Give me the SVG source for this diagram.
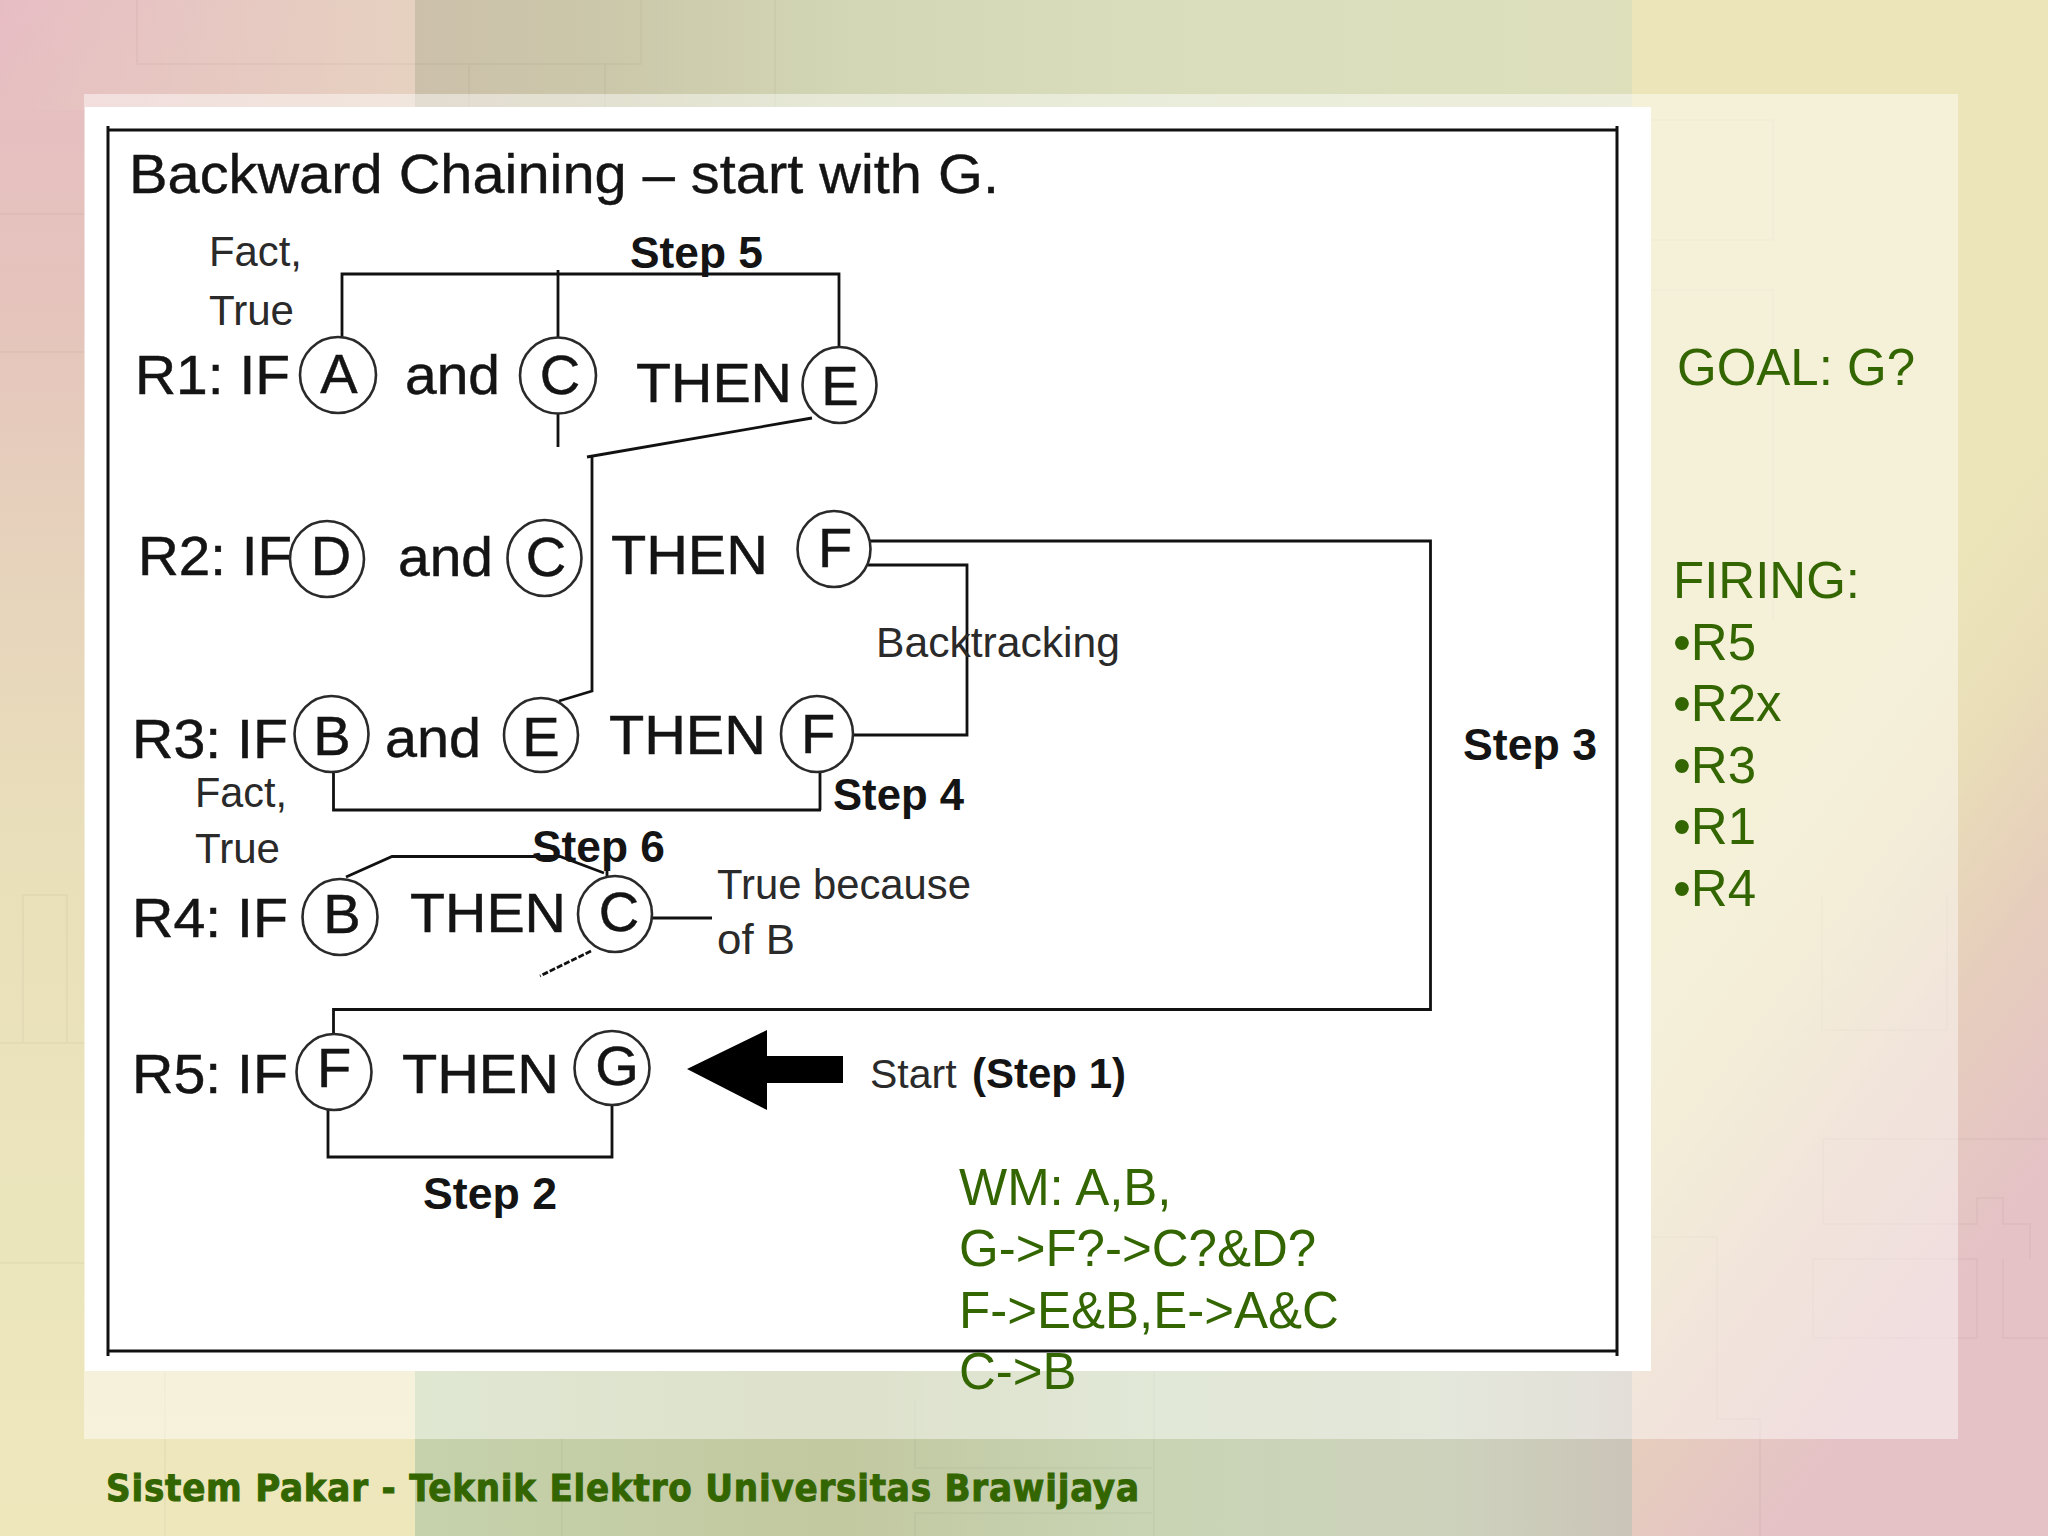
<svg xmlns="http://www.w3.org/2000/svg" width="2048" height="1536" viewBox="0 0 2048 1536">
<style>
text{font-family:"Liberation Sans",Arial,sans-serif;fill:#141414}
.b{font-size:56px;stroke:#141414;stroke-width:.5}
.s{font-size:43px;fill:#2a2a2a}
.st{font-size:44px;font-weight:bold}
.l{font-size:56px;text-anchor:middle;stroke:#141414;stroke-width:.5}
.g{font-size:51px;fill:#336600}
.n{fill:none;stroke:#2a2a2a;stroke-width:2.600}
.c{fill:none;stroke:#111;stroke-width:2.800}
.t{fill:none;stroke:#000;stroke-opacity:.028;stroke-width:2}
</style>
<defs>
<linearGradient id="lft" x1="0" y1="0" x2="0" y2="1"><stop offset="0" stop-color="#e7bdc4"/><stop offset=".2" stop-color="#e5c4bc"/><stop offset=".33" stop-color="#e6d0bc"/><stop offset=".55" stop-color="#e9dfba"/><stop offset=".8" stop-color="#ebe5bc"/><stop offset="1" stop-color="#efe7bc"/></linearGradient>
<linearGradient id="lt" x1="0" y1="0" x2="1" y2="0"><stop offset="0" stop-color="#e6d2c0" stop-opacity="0"/><stop offset="1" stop-color="#e6d2c0" stop-opacity=".95"/></linearGradient>
<linearGradient id="top" x1="0" y1="0" x2="1" y2="0"><stop offset="0" stop-color="#ccc0aa"/><stop offset=".15" stop-color="#cbc7aa"/><stop offset=".35" stop-color="#d2d6b4"/><stop offset=".6" stop-color="#d9ddbc"/><stop offset="1" stop-color="#dee0bc"/></linearGradient>
<linearGradient id="bot" x1="0" y1="0" x2="1" y2="0"><stop offset="0" stop-color="#c5d2ab"/><stop offset=".35" stop-color="#c2c8a0"/><stop offset=".6" stop-color="#c8d4b4"/><stop offset=".85" stop-color="#cdd2bc"/><stop offset="1" stop-color="#cbc4b8"/></linearGradient>
<linearGradient id="rgt" gradientUnits="userSpaceOnUse" x1="1700" y1="900" x2="2050" y2="1160"><stop offset="0" stop-color="#ece5b9"/><stop offset=".3" stop-color="#e9ddb8"/><stop offset=".6" stop-color="#e6cebc"/><stop offset="1" stop-color="#e5c2c6"/></linearGradient>
</defs>
<g id="background">
<rect x="0" y="0" width="2048" height="1536" fill="url(#rgt)"/>
<rect x="415" y="0" width="1217" height="700" fill="url(#top)"/>
<rect x="415" y="700" width="1217" height="836" fill="url(#bot)"/>
<rect x="0" y="0" width="415" height="1536" fill="url(#lft)"/>
<rect x="0" y="0" width="415" height="110" fill="url(#lt)"/>
<path class="t" d="M137 -5V64H641V-5M469 64V140M605 64V140M775 0V107M-5 214H84M-5 352H84M23 1043V895H67V1043M0 1043H84M0 1263H84"/>
<path class="t" d="M1650 120H1773V240H1650M1650 290H1773V620M1822 895V1030H1947V895M1823 1224V1139H2047M1823 1224H1977V1198H2003V1224H2030V1259M1813 1259H1977V1338H1813ZM2003 1259V1338H2048M1651 1237H1717V1419H1760V1536M165 1371V1536M562 1439V1536M915 1400V1468H1152M915 1536V1513H1152M1154 1371V1536"/>
</g>
<rect id="panel" x="84" y="94" width="1874" height="1345" fill="#fff" fill-opacity=".46"/>
<rect id="sheet" x="85" y="107" width="1566" height="1264" fill="#fff"/>
<path id="frame" d="M108 130H1617M108 126V1356M1617 126V1356M108 1351H1617" fill="none" stroke="#111" stroke-width="3"/>
<g id="connectors">
<path class="c" d="M342 337V274H839V347M558 270V337M558 414V447"/>
<path class="c" stroke-width="2.400" d="M812 418L587 457M592 457V691L559 701"/>
<path class="c" d="M870 541H1430.500V1009.500H333.500V1034"/>
<path class="c" d="M868 565H967V735H853"/>
<path class="c" d="M333.500 772V810H821M820 772V810"/>
<path class="c" d="M346 877L392 856.500H560L604 873M607 861V877"/>
<path class="c" d="M651 918H712"/>
<path class="c" stroke-dasharray="6 2" d="M591 951L540 976"/>
<path class="c" d="M328 1110V1157H612V1104"/>
<polygon id="start-arrow" points="687,1069 767,1030 767,1056 843,1056 843,1083 767,1083 767,1110" fill="#000"/>
</g>
<text id="title" x="129" y="193" font-size="55" stroke="#141414" stroke-width=".4" textLength="870" lengthAdjust="spacingAndGlyphs">Backward Chaining – start with G.</text>
<g id="rule-labels">
<text class="b" x="135" y="394" textLength="155" lengthAdjust="spacingAndGlyphs">R1: IF</text>
<text class="b" x="405" y="394" textLength="95" lengthAdjust="spacingAndGlyphs">and</text>
<text class="b" x="636" y="402" textLength="156" lengthAdjust="spacingAndGlyphs">THEN</text>
<text class="b" x="138" y="575" textLength="154" lengthAdjust="spacingAndGlyphs">R2: IF</text>
<text class="b" x="398" y="576" textLength="95" lengthAdjust="spacingAndGlyphs">and</text>
<text class="b" x="611" y="574" textLength="157" lengthAdjust="spacingAndGlyphs">THEN</text>
<text class="b" x="132" y="758" textLength="156" lengthAdjust="spacingAndGlyphs">R3: IF</text>
<text class="b" x="385" y="757" textLength="96" lengthAdjust="spacingAndGlyphs">and</text>
<text class="b" x="609" y="754" textLength="157" lengthAdjust="spacingAndGlyphs">THEN</text>
<text class="b" x="132" y="937" textLength="156" lengthAdjust="spacingAndGlyphs">R4: IF</text>
<text class="b" x="410" y="932" textLength="156" lengthAdjust="spacingAndGlyphs">THEN</text>
<text class="b" x="132" y="1093" textLength="156" lengthAdjust="spacingAndGlyphs">R5: IF</text>
<text class="b" x="402" y="1093" textLength="157" lengthAdjust="spacingAndGlyphs">THEN</text>
</g>
<g id="node-r1-a"><ellipse class="n" cx="338" cy="375" rx="38" ry="38"/><text class="l" x="339" y="393">A</text></g>
<g id="node-r1-c"><ellipse class="n" cx="558" cy="375.500" rx="38" ry="38"/><text class="l" x="560" y="394">C</text></g>
<g id="node-r1-e"><ellipse class="n" cx="839.500" cy="385" rx="37" ry="38"/><text class="l" x="840" y="405">E</text></g>
<g id="node-r2-d"><ellipse class="n" cx="327" cy="559" rx="37" ry="38"/><text class="l" x="331" y="575">D</text></g>
<g id="node-r2-c"><ellipse class="n" cx="544.500" cy="558" rx="37" ry="38"/><text class="l" x="546" y="576">C</text></g>
<g id="node-r2-f"><ellipse class="n" cx="834" cy="549" rx="36.500" ry="38"/><text class="l" x="835" y="567">F</text></g>
<g id="node-r3-b"><ellipse class="n" cx="331.500" cy="734" rx="37" ry="38"/><text class="l" x="332" y="755">B</text></g>
<g id="node-r3-e"><ellipse class="n" cx="541" cy="735" rx="37" ry="37"/><text class="l" x="541" y="756">E</text></g>
<g id="node-r3-f"><ellipse class="n" cx="817" cy="734" rx="36" ry="38"/><text class="l" x="818" y="753">F</text></g>
<g id="node-r4-b"><ellipse class="n" cx="340" cy="917" rx="37.500" ry="38"/><text class="l" x="342" y="933">B</text></g>
<g id="node-r4-c"><ellipse class="n" cx="615" cy="914" rx="37" ry="38"/><text class="l" x="619" y="931">C</text></g>
<g id="node-r5-f"><ellipse class="n" cx="334" cy="1072" rx="37.500" ry="38"/><text class="l" x="334" y="1087">F</text></g>
<g id="node-r5-g"><ellipse class="n" cx="612" cy="1068" rx="37.500" ry="37"/><text class="l" x="617" y="1085">G</text></g>
<g id="annotations">
<text class="s" x="209" y="266" textLength="93" lengthAdjust="spacingAndGlyphs">Fact,</text>
<text class="s" x="209" y="325" textLength="85" lengthAdjust="spacingAndGlyphs">True</text>
<text class="s" x="195" y="807" textLength="92" lengthAdjust="spacingAndGlyphs">Fact,</text>
<text class="s" x="195" y="863" textLength="85" lengthAdjust="spacingAndGlyphs">True</text>
<text class="s" x="876" y="657" textLength="244" lengthAdjust="spacingAndGlyphs">Backtracking</text>
<text class="s" x="717" y="899" textLength="254" lengthAdjust="spacingAndGlyphs">True because</text>
<text class="s" x="717" y="954" textLength="78" lengthAdjust="spacingAndGlyphs">of B</text>
<text class="st" x="630" y="268" textLength="133" lengthAdjust="spacingAndGlyphs">Step 5</text>
<text class="st" x="1463" y="760" textLength="134" lengthAdjust="spacingAndGlyphs">Step 3</text>
<text class="st" x="833" y="810" textLength="131" lengthAdjust="spacingAndGlyphs">Step 4</text>
<text class="st" x="532" y="862" textLength="133" lengthAdjust="spacingAndGlyphs">Step 6</text>
<text class="st" x="423" y="1209" textLength="134" lengthAdjust="spacingAndGlyphs">Step 2</text>
<text class="s" x="870" y="1088" style="font-size:41px">Start <tspan x="972" font-weight="bold" fill="#141414" style="font-size:42px">(Step 1)</tspan></text>
</g>
<g id="notes">
<text class="g" x="1677" y="385">GOAL: G?</text>
<text class="g" x="1673" y="598">FIRING:</text>
<text class="g" x="1673" y="660">•R5</text>
<text class="g" x="1673" y="721">•R2x</text>
<text class="g" x="1673" y="783">•R3</text>
<text class="g" x="1673" y="844">•R1</text>
<text class="g" x="1673" y="906">•R4</text>
<text class="g" x="959" y="1205">WM: A,B,</text>
<text class="g" x="959" y="1266">G-&gt;F?-&gt;C?&amp;D?</text>
<text class="g" x="959" y="1328">F-&gt;E&amp;B,E-&gt;A&amp;C</text>
<text class="g" x="959" y="1389">C-&gt;B</text>
</g>
<text id="footer" x="106" y="1501" font-size="38" font-weight="bold" stroke="#336600" stroke-width=".9" textLength="1033" lengthAdjust="spacing" style="font-family:'DejaVu Sans',sans-serif;font-stretch:condensed;fill:#336600">Sistem Pakar - Teknik Elektro Universitas Brawijaya</text>
</svg>
